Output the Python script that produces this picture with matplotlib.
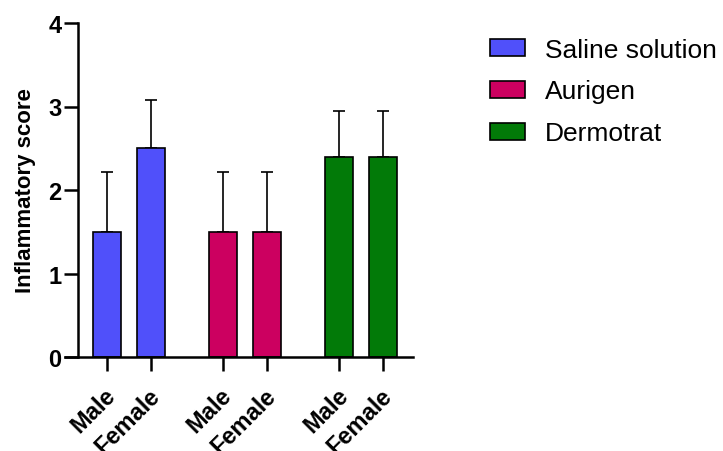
import matplotlib.pyplot as plt
import matplotlib.transforms as mtransforms
import numpy as np

plt.rcParams['font.family'] = ['Liberation Sans', 'DejaVu Sans']

# data
groups = ['Saline solution', 'Aurigen', 'Dermotrat']
sexes = ['Male', 'Female']
means = [[1.5, 2.5], [1.5, 1.5], [2.4, 2.4]]
sds = [[0.71, 0.58], [0.71, 0.71], [0.55, 0.55]]
colors = ['#5050FA', '#CC0060', '#027A08']

group_gap = 2.64
bar_width = 0.64

fig = plt.figure(figsize=(7.23, 4.52), dpi=100)
ax = fig.add_axes([65 / 723, 1 - 358 / 452, 348 / 723, 334 / 452])

# spine setup first, moving a spine resets the ticks
ax.spines['top'].set_visible(False)
ax.spines['right'].set_visible(False)
ax.spines['left'].set_position(('axes', 13 / 348))
for s in ['left', 'bottom']:
    ax.spines[s].set_linewidth(1.8)

xticks, xlabels = [], []
for g, name in enumerate(groups):
    pos = g * group_gap + np.arange(len(sexes))
    ax.bar(pos, means[g], width=bar_width, color=colors[g], edgecolor='black',
           linewidth=1.2, label=name, zorder=2)
    ax.errorbar(pos, means[g], yerr=[np.zeros(len(sexes)), sds[g]], fmt='none',
                ecolor='black', elinewidth=1.2, capsize=4.3, capthick=1.2, zorder=1)
    xticks.extend(pos)
    xlabels.extend(sexes)

ax.set_xlim(-0.955, 6.955)
ax.set_ylim(0, 4)
ax.set_yticks([0, 1, 2, 3, 4])
ax.set_yticklabels(['0', '1', '2', '3', '4'], fontsize=17, fontweight='bold')
ax.set_xticks(xticks)
ax.set_xticklabels(xlabels, rotation=45, ha='right', rotation_mode='anchor',
                   fontsize=17, fontweight='bold')
ax.tick_params(axis='both', length=10, width=1.8, direction='out')
ax.tick_params(axis='y', pad=2)
ax.tick_params(axis='x', pad=9)

# nudge rotated labels a little to the left, like the original
shift = mtransforms.ScaledTranslation(-3 / 100, 0, fig.dpi_scale_trans)
for lab in ax.get_xticklabels():
    lab.set_transform(lab.get_transform() + shift)

ax.set_ylabel('Inflammatory score', fontsize=16, fontweight='bold', labelpad=9)

ax.legend(loc='upper left', bbox_to_anchor=(479 / 723, 1 - 28 / 452),
          bbox_transform=fig.transFigure, frameon=False, fontsize=19,
          handlelength=1.35, handleheight=0.62, handletextpad=0.75,
          labelspacing=0.68, borderaxespad=0)

fig.savefig('out.png', dpi=100)
